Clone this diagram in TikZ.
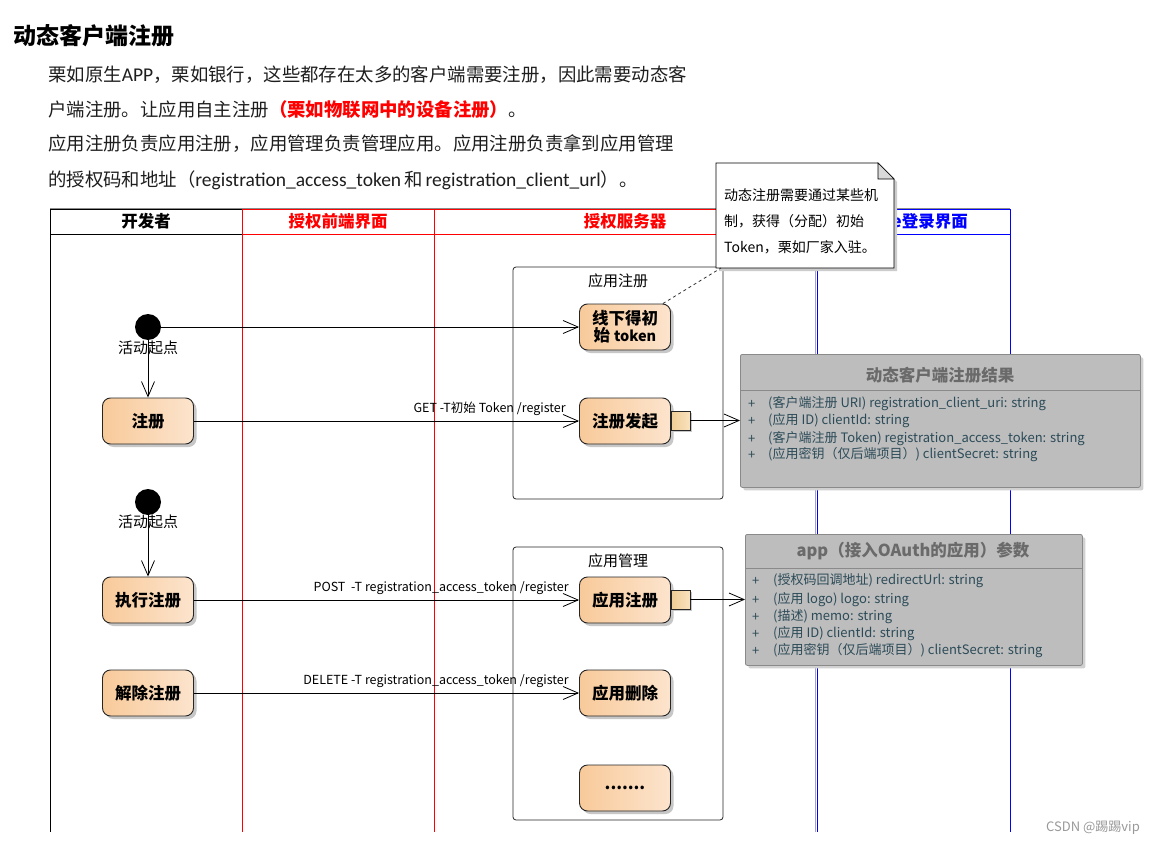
\documentclass[tikz,border=0pt]{standalone}
\usepackage{fontspec}
\setmainfont{Noto Sans CJK SC}
\newfontfamily\latf{Carlito}
\usetikzlibrary{arrows.meta,shadows}
\definecolor{actL}{HTML}{F8CA9A}
\definecolor{actR}{HTML}{FCE4CD}
\definecolor{pinL}{HTML}{F0CD95}
\definecolor{pinR}{HTML}{F9E2BE}
\definecolor{clsfill}{HTML}{BDBDBD}
\definecolor{clsdraw}{HTML}{8A8A8A}
\definecolor{clstitle}{HTML}{6A6A6A}
\definecolor{attrc}{HTML}{2C4B58}
\definecolor{txt}{HTML}{1E1E1E}
\definecolor{laneRed}{HTML}{FF0000}
\definecolor{laneBlue}{HTML}{0000FF}
\tikzset{
  act/.style={draw=black!85, line width=0.9pt, rounded corners=8pt,
    minimum width=91pt, minimum height=46pt, inner sep=0pt,
    left color=actL, right color=actR, align=center,
    drop shadow={shadow xshift=3pt, shadow yshift=-3pt, fill=black!22, opacity=1},
    font=\fontsize{16.5}{18}\selectfont\bfseries},
  pin/.style={draw=black!85, line width=0.9pt, minimum size=19pt, inner sep=0pt,
    left color=pinL, right color=pinR,
    drop shadow={shadow xshift=2pt, shadow yshift=-2pt, fill=black!22, opacity=1}},
  startnode/.style={circle, fill=black, minimum size=26pt, inner sep=0pt},
  arr/.style={draw=black, line width=0.8pt, -{Straight Barb[length=15pt,width=13pt,line width=0.8pt]}},
  lbl/.style={font=\fontsize{12.5}{14}\selectfont, inner sep=1pt, text=black},
  grp/.style={draw=black!85, line width=0.8pt, rounded corners=3pt},
  grplbl/.style={font=\fontsize{15}{17}\selectfont, text=black},
  clsbox/.style={draw=clsdraw, line width=0.8pt, fill=clsfill, rounded corners=2pt,
    anchor=north west, inner sep=0pt,
    drop shadow={shadow xshift=3pt, shadow yshift=-3pt, fill=black!18, opacity=1}},
  clsttl/.style={font=\fontsize{16.5}{18}\selectfont\bfseries, text=clstitle},
  attr/.style={font=\fontsize{13}{15}\selectfont, text=attrc, anchor=west, inner sep=0pt},
  para/.style={font=\fontsize{18.4}{20}\selectfont, text=txt, anchor=base west, inner sep=0pt},
  hdr/.style={font=\fontsize{16.5}{18}\selectfont\bfseries},
  startlbl/.style={font=\fontsize{15}{17}\selectfont, fill=none, inner sep=0pt},
  notetxt/.style={font=\fontsize{14}{16}\selectfont, anchor=west, inner sep=0pt, text=black},
}
\begin{document}
\begin{tikzpicture}[x=1pt,y=-1pt]
\useasboundingbox (0,0) rectangle (1154,845);
\fill[white] (0,0) rectangle (1154,845);

% ---- heading and paragraph
\node[anchor=base west, inner sep=0pt, font=\fontsize{23}{25}\selectfont\bfseries] (title) at (13,45) {动态客户端注册};
\node[para] (p1) at (48,82) {栗如原生{\latf\fontsize{19.5}{20}\selectfont APP}，栗如银行，这些都存在太多的客户端需要注册，因此需要动态客};
\node[para] (p2) at (48,117) {户端注册。让应用自主注册\textcolor{laneRed}{\bfseries（栗如物联网中的设备注册）}。};
\node[para] (p3) at (48,151) {应用注册负责应用注册，应用管理负责管理应用。应用注册负责拿到应用管理};
\node[para] (p4) at (48,187) {的授权码和地址（{\latf\fontsize{19.5}{20}\selectfont registration\_access\_token}\hspace{3pt}和\hspace{3pt}{\latf\fontsize{19.5}{20}\selectfont registration\_client\_url}）。};

% ---- swimlanes
\draw[black!45, line width=0.8pt] (50,208) -- (1010,208);
\draw[black, line width=1pt] (50,209.5) -- (242,209.5) (50,235) -- (242,235) (50,209) -- (50,832);
\draw[laneRed, line width=1pt] (242,209.5) -- (816,209.5) (242,235) -- (816,235) (242,209) -- (242,832) (434,209) -- (434,832);
\draw[black!35, line width=0.8pt] (815.8,209) -- (815.8,832);
\draw[laneBlue, line width=1pt] (817.5,209.5) -- (1010,209.5) (817.5,235) -- (1010,235) (817.5,209) -- (817.5,832) (1010,209) -- (1010,832);
\node[hdr, text=black] (h1) at (146,221) {开发者};
\node[hdr, text=laneRed] (h2) at (338,221) {授权前端界面};
\node[hdr, text=laneRed] (h3) at (625,221) {授权服务器};
\node[hdr, text=laneBlue, anchor=east, inner sep=0pt] (h4) at (968,221) {e登录界面};

% ---- groups
\draw[grp] (513,267) rectangle (723,499);
\node[grplbl] (g1) at (618,281) {应用注册};
\draw[grp] (513,547) rectangle (723,820);
\node[grplbl] (g2) at (618,561) {应用管理};

% ---- note
\fill[black!20] (719,166) -- (881,166) -- (897,182) -- (897,271) -- (719,271) -- cycle;
\draw[fill=white, line width=0.8pt] (716,163) -- (878,163) -- (894,179) -- (894,268) -- (716,268) -- cycle;
\draw[fill=black!15, line width=0.6pt] (878,163) -- (878,179) -- (894,179) -- cycle;
\coordinate (notept) at (721,268);
\node[notetxt] (n1) at (724,195) {动态注册需要通过某些机};
\node[notetxt] (n2) at (724,221) {制，获得（分配）初始};
\node[notetxt] (n3) at (724,247) {Token，栗如厂家入驻。};

% ---- activities
\node[startnode] (s1) at (148,327) {};
\node[startlbl] (s1l) at (148,348) {活动起点};
\node[act] (xx) at (625,327) {线下得初\\[-1pt]始 {\fontsize{14.5}{16}\selectfont token}};
\node[act] (zc) at (148,421) {注册};
\node[act] (zcfq) at (625,421) {注册发起};
\node[pin] (pin1) at (680.5,420.5) {};

\node[startnode] (s2) at (148,502) {};
\node[startlbl] (s2l) at (148,522) {活动起点};
\node[act] (zxzc) at (148,600) {执行注册};
\node[act] (yyzc) at (625,600) {应用注册};
\node[pin] (pin2) at (680.5,599.5) {};
\node[act] (jczc) at (148,693) {解除注册};
\node[act] (yysc) at (625,693) {应用删除};
\node[act] (dots) at (625,788) {.......};

% ---- class boxes
\node[clsbox, minimum width=400pt, minimum height=133pt] (cls1) at (740,354) {};
\draw[clsdraw, line width=0.8pt] (740,390) -- (1140,390);
\node[clsttl] (c1t) at (940,375) {动态客户端注册结果};
\node[attr] at (748,404) {+}; \node[attr] at (768,404) {(客户端注册 URI) registration\_client\_uri: string};
\node[attr] at (748,421) {+}; \node[attr] at (768,421) {(应用 ID) clientId: string};
\node[attr] at (748,439) {+}; \node[attr] at (768,439) {(客户端注册 Token) registration\_access\_token: string};
\node[attr] at (748,455) {+}; \node[attr] at (768,455) {(应用密钥（仅后端项目）) clientSecret: string};

\node[clsbox, minimum width=337pt, minimum height=131pt] (cls2) at (745,534) {};
\draw[clsdraw, line width=0.8pt] (745,568) -- (1082,568);
\node[clsttl] (c2t) at (913,551) {app（接入OAuth的应用）参数};
\node[attr] at (752,581) {+}; \node[attr] at (773,581) {(授权码回调地址) redirectUrl: string};
\node[attr] at (752,600) {+}; \node[attr] at (773,600) {(应用 logo) logo: string};
\node[attr] at (752,617) {+}; \node[attr] at (773,617) {(描述) memo: string};
\node[attr] at (752,634) {+}; \node[attr] at (773,634) {(应用 ID) clientId: string};
\node[attr] at (752,651) {+}; \node[attr] at (773,651) {(应用密钥（仅后端项目）) clientSecret: string};

% ---- connectors
\draw[arr] (s1) -- (xx);
\draw[arr] (s1) -- (zc);
\draw[arr] (zc) -- (zcfq) node[lbl, pos=1, anchor=south east, xshift=-12pt, yshift=4pt] {GET -T初始 Token /register};
\draw[arr] (pin1.east) -- (pin1.east -| cls1.west);
\draw[arr] (s2) -- (zxzc);
\draw[arr] (zxzc) -- (yyzc) node[lbl, pos=1, anchor=south east, xshift=-9pt, yshift=4pt] {POST\ \ -T registration\_access\_token /register};
\draw[arr] (pin2.east) -- (pin2.east -| cls2.west);
\draw[arr] (jczc) -- (yysc) node[lbl, pos=1, anchor=south east, xshift=-9pt, yshift=4pt] {DELETE -T registration\_access\_token /register};
\draw[black!80, line width=0.8pt, dash pattern=on 3pt off 3pt] ([xshift=-8pt]xx.north east) -- (notept);

% ---- watermark
\node[anchor=east, text=black!40, font=\fontsize{13}{15}\selectfont, inner sep=0pt] (wm) at (1140,828) {CSDN @踢踢vip};
\end{tikzpicture}
\end{document}
